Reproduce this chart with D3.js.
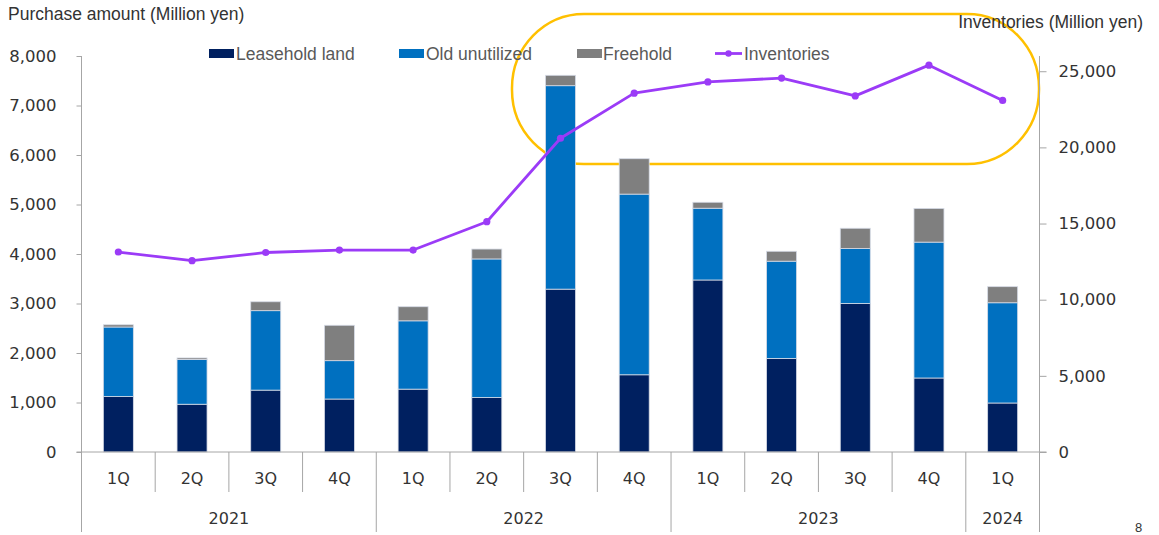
<!DOCTYPE html>
<html><head><meta charset="utf-8">
<script src="https://cdn.jsdelivr.net/npm/d3@7"></script>
<style>body{margin:0;background:#fff}svg{display:block}</style>
</head><body>
<svg id="c" width="1159" height="535"></svg>
<script>
const quarters = ["1Q","2Q","3Q","4Q","1Q","2Q","3Q","4Q","1Q","2Q","3Q","4Q","1Q"];
const years = ["2021","2021","2021","2021","2022","2022","2022","2022","2023","2023","2023","2023","2024"];
const leasehold = [1120, 965, 1250, 1070, 1270, 1100, 3290, 1560, 3475, 1890, 3000, 1495, 990];
const oldUnutilized = [1405, 905, 1605, 775, 1380, 2800, 4110, 3650, 1450, 1965, 1110, 2745, 2025];
const freehold = [45, 30, 180, 715, 285, 200, 210, 715, 120, 200, 410, 680, 325];
const inventories = [13130, 12560, 13100, 13260, 13260, 15120, 20600, 23560, 24300, 24550, 23380, 25400, 23080];
const leftTicks = [0,1000,2000,3000,4000,5000,6000,7000,8000];
const rightTicks = [0,5000,10000,15000,20000,25000];
const seriesNames = ["Leasehold land","Old unutilized","Freehold"];
const seriesColors = ["#002060","#0070C0","#7F7F7F"];
const lineColor = "#9B3BF7";

const svg = d3.select("#c");
const L = 81.5, R = 1039.5, T = 56, B = 452;
const idx = d3.range(quarters.length);
const x = d3.scaleBand().domain(idx).range([L, R]).paddingInner(0).paddingOuter(0);
const y = d3.scaleLinear().domain([0, 8000]).range([B, T]);
const y2 = d3.scaleLinear().domain([0, 26000]).range([B, T]);
const barW = 30;
const axisCol = "#A6A6A6";
const tickFont = "'DejaVu Sans', Verdana, sans-serif";
const txtFont = "'Liberation Sans', Arial, sans-serif";

const rows = idx.map(i => ({i, "Leasehold land": leasehold[i], "Old unutilized": oldUnutilized[i], "Freehold": freehold[i]}));
const stack = d3.stack().keys(seriesNames)(rows);

// yellow annotation
svg.append("rect").attr("x", 512).attr("y", 14).attr("width", 527).attr("height", 150)
  .attr("rx", 72).attr("ry", 74).attr("fill", "none").attr("stroke", "#FFC000").attr("stroke-width", 2.5);

// bars
stack.forEach((s, k) => {
  svg.append("g").selectAll("rect").data(s).join("rect")
    .attr("x", d => x(d.data.i) + x.bandwidth()/2 - barW/2)
    .attr("width", barW)
    .attr("y", d => y(d[1]))
    .attr("height", d => y(d[0]) - y(d[1]))
    .attr("fill", seriesColors[k])
    .attr("stroke", "#d6dbe6").attr("stroke-width", 0.8);
});

// axes
const axisG = svg.append("g").attr("stroke", axisCol).attr("stroke-width", 1);
const yAxis = d3.axisLeft(y).tickValues(leftTicks).tickSize(5).tickFormat(d3.format(","));
const gl = svg.append("g").attr("transform", `translate(${L},0)`).call(yAxis);
gl.select(".domain").remove();
gl.selectAll(".tick line").attr("stroke", axisCol);
gl.selectAll(".tick text").attr("x", -25).attr("font-family", tickFont).attr("font-size", 16.5).attr("fill", "#333");
const y2Axis = d3.axisRight(y2).tickValues(rightTicks).tickSize(7).tickFormat(d3.format(","));
const gr = svg.append("g").attr("transform", `translate(${R},0)`).call(y2Axis);
gr.select(".domain").remove();
gr.selectAll(".tick line").attr("stroke", axisCol);
gr.selectAll(".tick text").attr("x", 19).attr("font-family", tickFont).attr("font-size", 16.5).attr("fill", "#333");

axisG.append("line").attr("x1", L).attr("x2", L).attr("y1", T).attr("y2", 532);
axisG.append("line").attr("x1", R).attr("x2", R).attr("y1", T).attr("y2", 532);
axisG.append("line").attr("x1", L - 5).attr("x2", R + 7).attr("y1", B).attr("y2", B);
idx.slice(1).forEach(i => {
  const yearBreak = years[i] !== years[i-1];
  axisG.append("line").attr("x1", x(i)).attr("x2", x(i)).attr("y1", B).attr("y2", yearBreak ? 532 : 492);
});
svg.append("g").selectAll("text").data(idx).join("text")
  .attr("x", i => x(i) + x.bandwidth()/2).attr("y", 484)
  .attr("text-anchor", "middle").attr("font-family", tickFont).attr("font-size", 16).attr("fill", "#333")
  .text(i => quarters[i]);
const yearGroups = d3.groups(idx, i => years[i]);
svg.append("g").selectAll("text").data(yearGroups).join("text")
  .attr("x", g => (x(g[1][0]) + x(g[1][g[1].length-1]) + x.bandwidth())/2).attr("y", 524)
  .attr("text-anchor", "middle").attr("font-family", tickFont).attr("font-size", 16).attr("fill", "#333")
  .text(g => g[0]);

// line
const line = d3.line().x(i => x(i) + x.bandwidth()/2).y(i => y2(inventories[i]));
svg.append("path").datum(idx).attr("d", line).attr("fill", "none").attr("stroke", lineColor).attr("stroke-width", 2.8).attr("stroke-linejoin", "round");
svg.append("g").selectAll("circle").data(idx).join("circle")
  .attr("cx", i => x(i) + x.bandwidth()/2).attr("cy", i => y2(inventories[i])).attr("r", 3.6).attr("fill", lineColor);

// titles
svg.append("text").attr("x", 8).attr("y", 20).attr("font-family", txtFont).attr("font-size", 17.5).attr("fill", "#333").text("Purchase amount (Million yen)");
svg.append("text").attr("x", 1143).attr("y", 28).attr("text-anchor", "end").attr("font-family", txtFont).attr("font-size", 17.5).attr("fill", "#333").text("Inventories (Million yen)");
svg.append("text").attr("x", 1135).attr("y", 532).attr("font-family", txtFont).attr("font-size", 13).attr("fill", "#333").text("8");

// legend
const legX = [209, 399, 577];
const legTX = [236, 426, 603];
seriesNames.forEach((n, k) => {
  svg.append("rect").attr("x", legX[k]).attr("y", 49).attr("width", 25).attr("height", 9).attr("fill", seriesColors[k]);
  svg.append("text").attr("x", legTX[k]).attr("y", 59.5).attr("font-family", txtFont).attr("font-size", 17.5).attr("fill", "#595959").text(n);
});
svg.append("line").attr("x1", 715).attr("x2", 742).attr("y1", 53.5).attr("y2", 53.5).attr("stroke", lineColor).attr("stroke-width", 2.8);
svg.append("circle").attr("cx", 728.5).attr("cy", 53.5).attr("r", 3.2).attr("fill", lineColor);
svg.append("text").attr("x", 744).attr("y", 59.5).attr("font-family", txtFont).attr("font-size", 17.5).attr("fill", "#595959").text("Inventories");
</script>
</body></html>
